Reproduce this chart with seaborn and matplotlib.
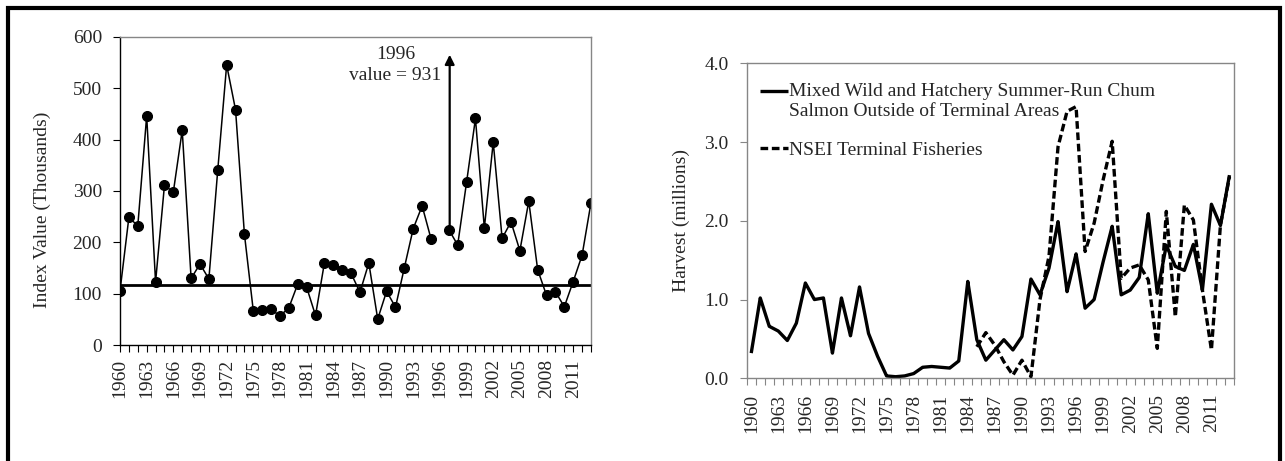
import numpy as np
import pandas as pd
import matplotlib
matplotlib.use("Agg")
import matplotlib.pyplot as plt
from matplotlib.patches import Rectangle
import seaborn as sns

# ---------------- data ----------------
years = list(range(1960, 2014))

# Left panel: index value (thousands); 1996 (931) is off-scale
index_values = [106, 249, 232, 446, 123, 311, 298, 418, 130, 158,
                129, 341, 545, 458, 216, 67, 69, 70, 57, 73,
                119, 113, 58, 160, 157, 147, 140, 103, 160, 51,
                105, 74, 151, 227, 271, 207, np.nan, 225, 195, 317,
                441, 228, 395, 208, 240, 184, 280, 147, 97, 104,
                75, 124, 175, 277]
reference_level = 118
outlier_year = 1996
outlier_value = 931

# Right panel: harvest (millions)
mixed_harvest = [0.32, 1.02, 0.66, 0.60, 0.48, 0.70, 1.21, 1.00, 1.02, 0.32,
                 1.02, 0.54, 1.16, 0.57, 0.28, 0.03, 0.02, 0.03, 0.06, 0.14,
                 0.15, 0.14, 0.13, 0.22, 1.23, 0.49, 0.23, 0.36, 0.49, 0.36,
                 0.53, 1.26, 1.06, 1.40, 1.99, 1.10, 1.58, 0.89, 1.00, 1.48,
                 1.93, 1.06, 1.12, 1.28, 2.09, 1.08, 1.69, 1.42, 1.37, 1.70,
                 1.12, 2.21, 1.94, 2.58]
nsei_harvest = [np.nan] * 25 + [
                 0.40, 0.58, 0.42, 0.21, 0.04,
                 0.23, 0.02, 1.00, 1.55, 2.94, 3.39, 3.45, 1.61, 1.97, 2.52,
                 3.01, 1.27, 1.40, 1.44, 1.25, 0.38, 2.12, 0.78, 2.20, 2.01,
                 1.12, 0.36, 1.95, 2.56]

label_years = list(range(1960, 2012, 3))
mixed_label = "Mixed Wild and Hatchery Summer-Run Chum\nSalmon Outside of Terminal Areas"
nsei_label = "NSEI Terminal Fisheries"

# ---------------- style ----------------
sns.set_theme(style="white")
plt.rcParams["font.family"] = ["Liberation Serif", "DejaVu Serif"]
GRAY = "#868686"
FS = 14

fig = plt.figure(figsize=(12.85, 4.61), dpi=100)
axL = fig.add_axes([0.0934, 0.251, 0.3665, 0.6694])
axR = fig.add_axes([0.5811, 0.1794, 0.3792, 0.6833])

# ---------------- left panel ----------------
left_df = pd.DataFrame({"year": years, "value": index_values})
left_df["segment"] = (left_df["year"] > outlier_year).astype(int)
left_df = left_df.dropna()
sns.lineplot(data=left_df, x="year", y="value", units="segment", estimator=None,
             color="black", lw=1.1, marker="o", markersize=7.2,
             markeredgecolor="black", markerfacecolor="black", ax=axL, legend=False)
axL.axhline(reference_level, color="black", lw=2.0, zorder=1)
axL.set_xlim(1960, 2013)
axL.set_ylim(0, 600)
axL.set_yticks(range(0, 601, 100))
axL.set_xticks(years)
axL.set_xticklabels([str(y) if y in label_years else "" for y in years],
                    rotation=90)
axL.tick_params(axis="x", direction="out", length=5, width=0.8, color="black",
                pad=5, labelsize=FS, bottom=True)
axL.tick_params(axis="y", direction="out", length=5, width=0.8, color="black",
                pad=8, labelsize=FS, left=True)
axL.set_xlabel("")
axL.set_ylabel("Index Value (Thousands)", fontsize=FS)
axL.yaxis.set_label_coords(-0.146, 0.44)
for s in ["left", "bottom"]:
    axL.spines[s].set_color("black")
    axL.spines[s].set_linewidth(1.0)
for s in ["top", "right"]:
    axL.spines[s].set_color(GRAY)
    axL.spines[s].set_linewidth(1.0)

axL.annotate("", xy=(outlier_year + 1.1, 565), xytext=(outlier_year + 1.1, 228),
             arrowprops=dict(arrowstyle="-|>", color="black", lw=1.6,
                             mutation_scale=14, shrinkA=0, shrinkB=0))
axL.text(1991.0, 545, f"{outlier_year}\nvalue = {outlier_value}", ha="center",
         va="center", fontsize=FS, linespacing=1.3)

# ---------------- right panel ----------------
right_df = pd.DataFrame({"year": years * 2,
                         "harvest": mixed_harvest + nsei_harvest,
                         "series": [mixed_label] * len(years) + [nsei_label] * len(years)})
sns.lineplot(data=right_df, x="year", y="harvest", hue="series", style="series",
             palette=["black", "black"], dashes=[(1, 0), (2.3, 1.1)],
             lw=2.4, ax=axR)
axR.set_xlim(1959.5, 2013.5)
axR.set_ylim(0, 4.0)
axR.set_yticks([0, 1, 2, 3, 4])
axR.set_yticklabels([f"{v:.1f}" for v in [0, 1, 2, 3, 4]])
axR.set_xticks(label_years)
axR.set_xticklabels([str(y) for y in label_years], rotation=90)
axR.set_xticks([y - 0.5 for y in years] + [2013.5], minor=True)
axR.tick_params(axis="x", which="major", length=0, pad=11, labelsize=FS, bottom=True)
axR.tick_params(axis="x", which="minor", direction="out", length=5, width=0.8,
                color=GRAY, bottom=True)
axR.tick_params(axis="y", direction="out", length=5, width=0.8, color=GRAY,
                pad=8, labelsize=FS, left=True)
axR.set_xlabel("")
axR.set_ylabel("Harvest (millions)", fontsize=FS, labelpad=10)
for s in axR.spines.values():
    s.set_color(GRAY)
    s.set_linewidth(1.0)

leg = axR.legend(loc="upper left", bbox_to_anchor=(0.0, 0.98), frameon=False,
                 fontsize=FS, handlelength=1.4, handletextpad=0.1,
                 borderaxespad=0.3, labelspacing=1.1)
# align the first handle with the first text line (as in the original)
first = leg.get_lines()[0]
first.set_ydata(np.asarray(first.get_ydata()) + 7.5)

# ---------------- figure border ----------------
fig.add_artist(Rectangle((8 / 1285, -0.05), (1280 - 8) / 1285, 1.05 - 8 / 461,
                         transform=fig.transFigure, fill=False,
                         edgecolor="black", lw=3, clip_on=False))

fig.savefig("out.png", dpi=100)
